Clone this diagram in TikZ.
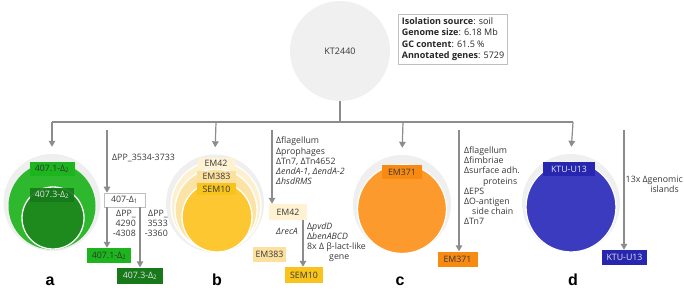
\documentclass[tikz,border=0pt]{standalone}
\usepackage{fontspec}
\setmainfont{Open Sans}
\newfontfamily\lblfont{Liberation Sans}
\usetikzlibrary{arrows.meta}
\definecolor{lgray}{HTML}{EFEFEF}
\definecolor{ktgray}{HTML}{F0F0F0}
\definecolor{lnc}{HTML}{8C8C8C}
\definecolor{txt}{HTML}{383838}
\definecolor{gA}{HTML}{2DB82D}
\definecolor{gAl}{HTML}{1DB51D}
\definecolor{gB}{HTML}{1E8A1E}
\definecolor{gBl}{HTML}{17791A}
\definecolor{yA}{HTML}{FDF0CF}
\definecolor{yAl}{HTML}{FEF2D3}
\definecolor{yB}{HTML}{FBE3A6}
\definecolor{yBl}{HTML}{FCE19E}
\definecolor{yC}{HTML}{FDC731}
\definecolor{yCl}{HTML}{F8C31A}
\definecolor{oA}{HTML}{FC9A2D}
\definecolor{oAl}{HTML}{F88A12}
\definecolor{bA}{HTML}{3B3BC0}
\definecolor{bAl}{HTML}{2626B0}
\newcommand\dsub[1]{\textsubscript{#1}}
\begin{document}
\begin{tikzpicture}[x=1pt,y=-1pt,
  conn/.style={draw=lnc,line width=1.2pt},
  arr/.style={conn,-{Triangle[length=6pt,width=6.5pt]}},
  disc/.style={circle,inner sep=0pt,draw=none},
  ring/.style={circle,inner sep=0pt,draw=white,line width=1.3pt},
  lab/.style={inner sep=0pt,font=\fontsize{8.8}{10}\selectfont,text=txt},
  side/.style={inner sep=0pt,font=\fontsize{8.8}{10.2}\selectfont,text=txt,align=left},
  letter/.style={anchor=base,inner sep=0pt,font=\lblfont\bfseries\fontsize{16}{16}\selectfont}]
\useasboundingbox (0,0) rectangle (684,289);

% root
\node[disc,fill=ktgray,minimum size=100pt,font=\fontsize{9}{10}\selectfont,text=txt] (kt) at (340,51) {KT2440};
\node[draw=black!25,fill=white,line width=0.6pt,anchor=north west,align=left,inner sep=3.5pt,
  font=\fontsize{9}{11.3}\selectfont,text=black!85] (info) at (398,14)
  {\textbf{Isolation source}: soil\\\textbf{Genome size}: 6.18 Mb\\\textbf{GC content}: 61.5 \%\\\textbf{Annotated genes}: 5729};

\coordinate (j) at (340,122);
\coordinate (ja) at (52,122);
\coordinate (jb) at (216,122);
\coordinate (jc) at (403,122);
\coordinate (jd) at (573,122);
\draw[conn] (kt.south) -- (j);
\draw[conn] (ja) -- (jd);

% circle a
\node[disc,fill=lgray,minimum size=97pt] (ga) at (52,202.5) {};
\node[disc,fill=gA,minimum size=87pt] (ca1) at (52,206) {};
\node[ring,fill=gB,minimum size=62pt] (ca3) at (53,218) {};
\node[lab,fill=gAl,minimum width=45pt,minimum height=14pt,text=black!80] (la1) at (52,169) {407.1-Δ\dsub{2}};
\node[lab,fill=gBl,fill opacity=0.9,text opacity=1,minimum width=44pt,minimum height=14pt,text=white!90!black] (la3) at (52,194.5) {407.3-Δ\dsub{2}};
\draw[arr,shorten >=7pt] (ja) -- (ga.north);

% circle b
\node[disc,fill=lgray,minimum size=98pt] (gb) at (215,203.5) {};
\node[ring,fill=yA,minimum size=90pt] (cb1) at (216,206) {};
\node[ring,fill=yB,minimum size=82pt] (cb2) at (216,210) {};
\node[ring,fill=yC,minimum size=70pt] (cb3) at (217,217) {};
\node[lab,fill=yAl,minimum width=37pt,minimum height=11pt] (lb1) at (216,163) {EM42};
\node[lab,fill=yBl,minimum width=39pt,minimum height=12pt] (lb2) at (216.5,176.5) {EM383};
\node[lab,fill=yCl,minimum width=39pt,minimum height=12pt] (lb3) at (216.5,189) {SEM10};
\draw[arr,shorten >=7pt] (jb) -- (gb.north);

% circle c
\node[disc,fill=lgray,minimum size=98pt] (gc) at (402,204) {};
\node[ring,fill=oA,minimum size=89pt] (cc) at (402,209) {};
\node[lab,fill=oAl,minimum width=40pt,minimum height=14pt] (lc) at (402,172) {EM371};
\draw[arr,shorten >=7pt] (jc) -- (gc.north);

% circle d
\node[disc,fill=lgray,minimum size=98pt] (gd) at (571,203) {};
\node[ring,fill=bA,minimum size=90pt] (cd) at (571,207) {};
\node[lab,fill=bAl,minimum width=52pt,minimum height=14pt,text=white!90!black] (ld) at (569,169) {KTU-U13};
\draw[arr,shorten >=7pt] (jd) -- (gd.north);

% side branch a
\coordinate (sa) at (107,130);
\node[lab,draw=black!25,line width=0.6pt,fill=white,minimum width=41pt,minimum height=14pt] (b407) at (124.5,200) {407-Δ\dsub{1}};
\node[side,anchor=west] (pa1) at (112,158) {ΔPP\_3534-3733};
\draw[arr] (sa) -- (sa |- b407.north);
\node[lab,fill=gAl,minimum width=44pt,minimum height=15pt,text=black!80] (a71) at (109,255.5) {407.1-Δ\dsub{2}};
\node[lab,fill=gBl,minimum width=46pt,minimum height=16pt,text=white!90!black] (a73) at (140,275.5) {407.3-Δ\dsub{2}};
\draw[arr] (b407.south -| sa) -- (a71.north -| sa);
\coordinate (sa2) at (140,201);
\draw[arr] (b407.south -| sa2) -- (a73.north -| sa2);
\node[side,align=right,anchor=north east] (pa2) at (136,210) {ΔPP\_\\4290\\-4308};
\node[side,align=right,anchor=north east] (pa3) at (168,210) {ΔPP\_\\3533\\-3360};

% side branch b
\coordinate (sb) at (272,130);
\node[lab,fill=yAl,minimum width=38pt,minimum height=16pt] (e42) at (288,212) {EM42};
\draw[arr] (sb) -- (sb |- e42.north);
\node[side,anchor=north west] (pb1) at (276,137) {Δflagellum\\Δprophages\\ΔTn7, ΔTn4652\\\textit{ΔendA-1}, \textit{ΔendA-2}\\\textit{ΔhsdRMS}};
\node[side,anchor=west] (prec) at (276,231) {\textit{ΔrecA}};
\node[lab,fill=yBl,minimum width=33pt,minimum height=15pt] (e383) at (269.5,254.5) {EM383};
\node[lab,fill=yCl,minimum width=38pt,minimum height=16pt] (s10) at (304,275) {SEM10};
\coordinate (sb2) at (303,218);
\draw[arr] (e42.south -| sb2) -- (s10.north -| sb2);
\node[side,anchor=north west] (pb2) at (307,222.5) {Δ\textit{pvdD}\\Δ\textit{benABCD}\\8x Δ β-lact-like\\\hspace*{22pt}gene};

% side branch c
\coordinate (sc) at (459,130);
\node[lab,fill=oAl,minimum width=40pt,minimum height=15pt] (e371) at (457.5,259) {EM371};
\draw[arr] (sc) -- (sc |- e371.north);
\node[side,anchor=north west] (pc) at (464,146.5) {Δflagellum\\Δfimbriae\\Δsurface adh.\\\hspace*{19pt}proteins\\ΔEPS\\ΔO-antigen\\\hspace*{8pt}side chain\\ΔTn7};

% side branch d
\coordinate (sd) at (624,130);
\node[lab,fill=bAl,minimum width=45pt,minimum height=15pt,text=white!90!black] (ku) at (624.5,257.5) {KTU-U13};
\draw[arr] (sd) -- (sd |- ku.north);
\node[side,align=right,anchor=north east] (pd) at (683,176) {13x Δgenomic\\islands\hspace*{4pt}};

% letters
\node[letter] (La) at (50,285.5) {a};
\node[letter] (Lb) at (217,285.5) {b};
\node[letter] (Lc) at (400,285.5) {c};
\node[letter] (Ld) at (573,285.5) {d};
\end{tikzpicture}
\end{document}
